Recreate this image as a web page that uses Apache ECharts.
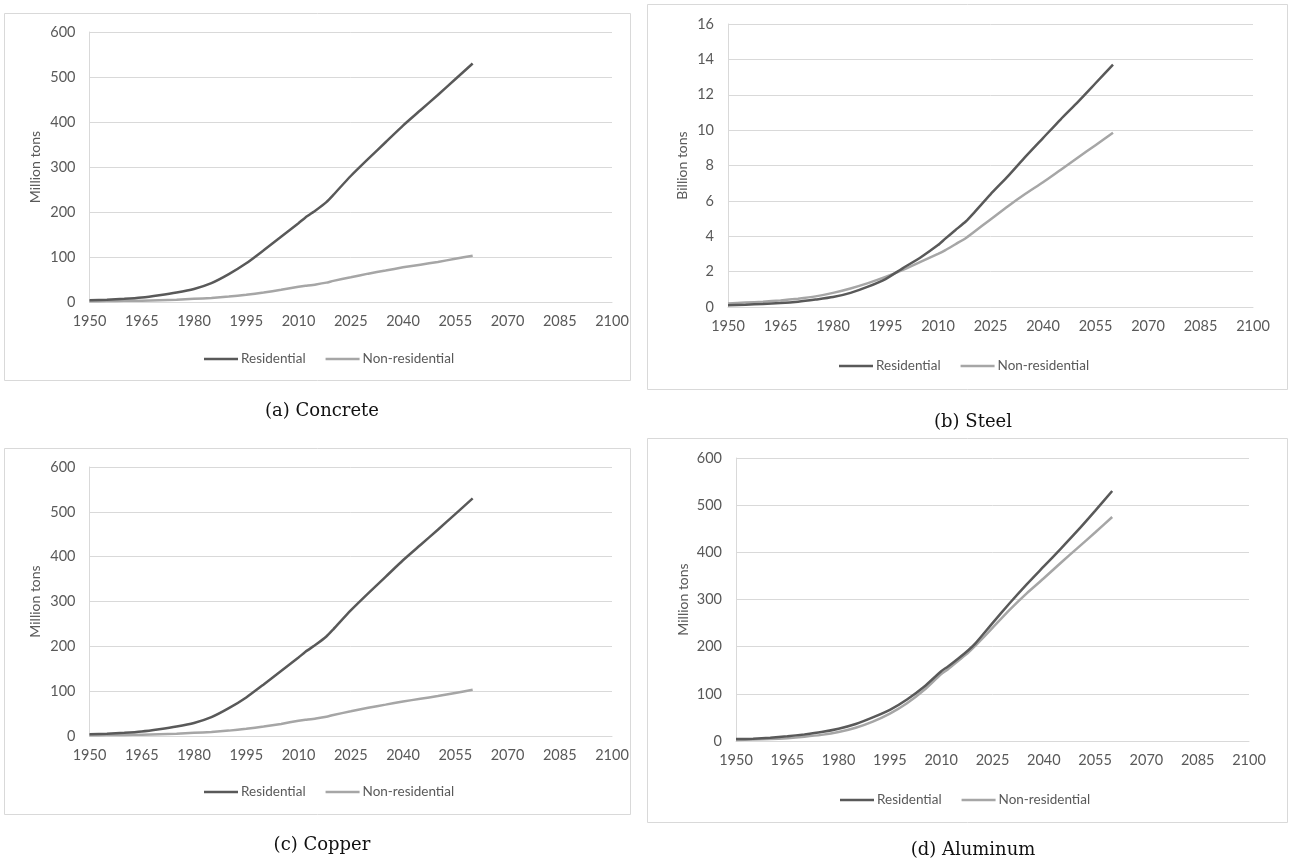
<!DOCTYPE html>
<html>
<head>
<meta charset="utf-8">
<script src="https://cdn.jsdelivr.net/npm/echarts@6/dist/echarts.min.js"></script>
<style>
html,body{margin:0;padding:0;background:#fff;}
#c{width:1290px;height:865px;}
</style>
</head>
<body>
<div id="c"></div>
<script>
// ---- data ----
const years = [1950,1955,1960,1965,1970,1975,1980,1985,1990,1995,2000,2005,2010,2012,2015,2018,2020,2025,2030,2035,2040,2045,2050,2055,2060];
const concreteRes    = [4,5,7,10,15,21,29,42,62,86,115,145,175,188,204,222,238,280,318,355,392,426,460,495,530];
const concreteNonRes = [1.5,2,2.5,3,4,5,7,9,12,16,21,27,34,36,39,43,47,55,63,70,77,83,89,96,103];
const steelRes       = [0.1,0.13,0.17,0.22,0.3,0.42,0.56,0.8,1.15,1.58,2.2,2.8,3.5,3.85,4.35,4.85,5.27,6.37,7.4,8.5,9.55,10.6,11.6,12.65,13.7];
const steelNonRes    = [0.2,0.25,0.3,0.37,0.47,0.6,0.8,1.05,1.35,1.7,2.1,2.55,3.0,3.2,3.55,3.9,4.2,4.95,5.7,6.4,7.05,7.75,8.45,9.15,9.85];
const copperRes      = [4,5,7,10,15,21,29,42,62,86,115,145,175,188,204,222,238,280,318,355,392,426,460,495,530];
const copperNonRes   = [1.5,2,2.5,3,4,5,7,9,12,16,21,27,34,36,39,43,47,55,63,70,77,83,89,96,103];
const aluminumRes    = [4,5,7,10,14,19,26,36,50,66,88,115,148,158,175,193,207,250,292,332,370,408,447,488,530];
const aluminumNonRes = [2,3,4,6,9,13,19,28,41,58,80,108,142,152,170,188,202,240,278,313,345,378,410,442,475];
const seriesNames = ['Residential','Non-residential'];
const xTicks = {min:1950, max:2100, interval:15};
const panels = [
  {caption:'(a) Concrete', unit:'Million tons', res:concreteRes, non:concreteNonRes, yMax:600, yInt:100},
  {caption:'(b) Steel', unit:'Billion tons', res:steelRes, non:steelNonRes, yMax:16, yInt:2},
  {caption:'(c) Copper', unit:'Million tons', res:copperRes, non:copperNonRes, yMax:600, yInt:100},
  {caption:'(d) Aluminum', unit:'Million tons', res:aluminumRes, non:aluminumNonRes, yMax:600, yInt:100}
];

// ---- layout ----
const grids = [
  {left:89.5, right:678, top:32, bottom:563},
  {left:728, right:37, top:24, bottom:558},
  {left:89.5, right:678, top:467, bottom:129},
  {left:736, right:41, top:458, bottom:124}
];
const borders = [
  {x:4.5, y:13.5, w:626, h:367},
  {x:647.5, y:4.5, w:640, h:385},
  {x:4.5, y:448.5, w:626, h:366},
  {x:647.5, y:438.5, w:640, h:384}
];
const legendPos = [
  {left:199, top:347},
  {left:834, top:354},
  {left:199, top:780},
  {left:835, top:788}
];
const captionPos = [
  {x:317, y:409}, {x:968, y:420}, {x:317, y:843}, {x:968, y:848}
];
const nameGaps = [47, 39, 47, 46];

const dark = '#595959', light = '#a6a6a6';
const font = 'Lato, "Open Sans", sans-serif';

const option = {
  animation:false,
  backgroundColor:'#fff',
  grid: grids.map(g => Object.assign({containLabel:false}, g)),
  xAxis: panels.map((p,i) => ({
    type:'value', gridIndex:i, min:xTicks.min, max:xTicks.max, interval:xTicks.interval,
    axisLine:{show:true, lineStyle:{color:'#d9d9d9', width:1}},
    axisTick:{show:false}, splitLine:{show:false},
    axisLabel:{color:'#595959', fontFamily:font, fontSize:14.5, margin:12, showMaxLabel:true, showMinLabel:true,
      formatter: v => String(v)}
  })),
  yAxis: panels.map((p,i) => ({
    type:'value', gridIndex:i, min:0, max:p.yMax, interval:p.yInt,
    name:p.unit, nameLocation:'middle', nameGap:nameGaps[i], nameRotate:90,
    nameTextStyle:{color:'#595959', fontFamily:font, fontSize:14},
    axisLine:{show:true, lineStyle:{color:'#d9d9d9', width:1}},
    axisTick:{show:false},
    splitLine:{show:true, lineStyle:{color:'#d9d9d9', width:1}},
    axisLabel:{color:'#595959', fontFamily:font, fontSize:14.5, margin:14}
  })),
  legend: panels.map((p,i) => ({
    left:legendPos[i].left, top:legendPos[i].top, orient:'horizontal',
    itemWidth:34, itemHeight:2.5, itemGap:20, icon:'rect',
    textStyle:{color:'#595959', fontFamily:font, fontSize:13.5, padding:[0,0,0,-2]},
    data: seriesNames
  })),
  title: panels.map((p,i) => ({
    text:p.caption, left:captionPos[i].x, top:captionPos[i].y - 12, textAlign:'center',
    textStyle:{fontFamily:'"DejaVu Serif", serif', fontWeight:'normal', fontSize:18, color:'#111'}
  })),
  graphic: borders.map(b => ({
    type:'rect', shape:{x:b.x, y:b.y, width:b.w, height:b.h},
    style:{fill:null, stroke:'#d9d9d9', lineWidth:1}, silent:true, z:-1
  })),
  series: []
};
panels.forEach((p,i) => {
  [[p.non, light, seriesNames[1]], [p.res, dark, seriesNames[0]]].forEach(([vals,col,nm]) => {
    option.series.push({
      type:'line', name:nm, xAxisIndex:i, yAxisIndex:i,
      data: years.map((y,k) => [y, vals[k]]),
      showSymbol:false, symbol:'none', smooth:0.2,
      lineStyle:{color:col, width:2.5}, itemStyle:{color:col}
    });
  });
});
const chart = echarts.init(document.getElementById('c'), null, {renderer:'canvas'});
chart.setOption(option);
</script>
</body>
</html>
